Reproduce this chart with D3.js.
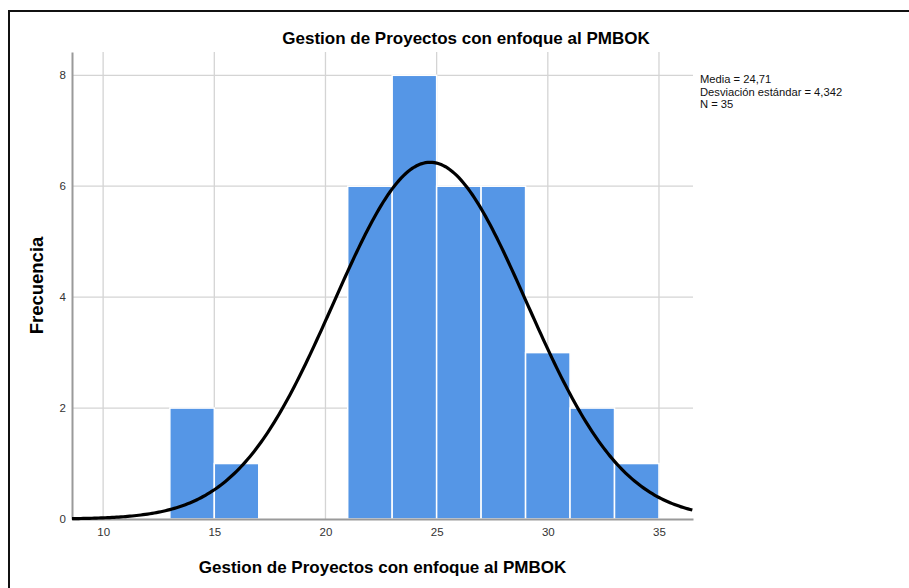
<!DOCTYPE html>
<html>
<head>
<meta charset="utf-8">
<script src="https://cdn.jsdelivr.net/npm/d3@7"></script>
<style>
  body { margin: 0; background: #fff; }
  svg { display: block; font-family: 'Liberation Sans', Arial, sans-serif; }
</style>
</head>
<body>
<div id="chart"></div>
<script>
  // histogram bins (lower edge, upper edge, count)
  var binStarts = [13, 15, 21, 23, 25, 27, 29, 31, 33]
  var binEnds = [15, 17, 23, 25, 27, 29, 31, 33, 35]
  var counts = [2, 1, 6, 8, 6, 6, 3, 2, 1]
  var xTicks = [10, 15, 20, 25, 30, 35]
  var yTicks = [0, 2, 4, 6, 8]

  // summary stats shown in the legend
  var mean = 24.71
  var sd = 4.342
  var n = 35
  var binWidth = 2

  var width = 909
  var height = 588
  var margin = { left: 72, right: 216, top: 52, bottom: 69 }

  var svg = d3.select('#chart').append('svg')
    .attr('width', width)
    .attr('height', height)

  // outer frame
  svg.append('path')
    .attr('d', 'M9,' + height + 'V11H' + width)
    .attr('fill', 'none')
    .attr('stroke', '#111')
    .attr('stroke-width', 2)

  var xScale = d3.scaleLinear()
    .domain([8.6, 36.53])
    .range([margin.left, width - margin.right])

  var yScale = d3.scaleLinear()
    .domain([0, 8.42])
    .range([height - margin.bottom, margin.top])

  var grid = svg.append('g').classed('grid', true)
  grid.selectAll('line.v')
    .data(xTicks)
    .enter()
    .append('line')
      .attr('x1', function (d) { return xScale(d) })
      .attr('x2', function (d) { return xScale(d) })
      .attr('y1', yScale.range()[1])
      .attr('y2', yScale.range()[0])
      .attr('stroke', '#d4d4d4')
      .attr('stroke-width', 1.3)
  grid.selectAll('line.h')
    .data(yTicks.slice(1))
    .enter()
    .append('line')
      .attr('x1', xScale.range()[0])
      .attr('x2', xScale.range()[1])
      .attr('y1', function (d) { return yScale(d) })
      .attr('y2', function (d) { return yScale(d) })
      .attr('stroke', '#d4d4d4')
      .attr('stroke-width', 1.3)

  // bars
  svg.append('g').classed('bars', true).selectAll('rect')
    .data(counts)
    .enter()
    .append('rect')
      .attr('x', function (d, i) { return xScale(binStarts[i]) })
      .attr('width', function (d, i) { return xScale(binEnds[i]) - xScale(binStarts[i]) })
      .attr('y', function (d) { return yScale(d) })
      .attr('height', function (d) { return yScale(0) - yScale(d) })
      .attr('fill', '#5596e6')
      .attr('stroke', '#fff')
      .attr('stroke-width', 1.5)

  // axes
  var xAxis = d3.axisBottom(xScale).tickValues(xTicks).tickSize(0).tickPadding(9)
  var yAxis = d3.axisLeft(yScale).tickValues(yTicks).tickSize(0).tickPadding(6)

  var xAxisGroup = svg.append('g')
    .attr('transform', 'translate(0,' + yScale(0) + ')')
    .call(xAxis)
  var yAxisGroup = svg.append('g')
    .attr('transform', 'translate(' + xScale.range()[0] + ',0)')
    .call(yAxis)

  ;[xAxisGroup, yAxisGroup].forEach(function (g) {
    g.select('.domain').attr('stroke', '#9a9a9a').attr('stroke-width', 2)
    g.selectAll('text')
      .attr('fill', '#333')
      .style('font-size', '11.5px')
      .style('font-family', "'Liberation Sans', Arial, sans-serif")
  })

  // fitted normal curve
  var pdf = function (x) {
    return n * binWidth / (sd * Math.sqrt(2 * Math.PI)) * Math.exp(-0.5 * Math.pow((x - mean) / sd, 2))
  }
  var curveX = d3.range(xScale.domain()[0], xScale.domain()[1] + 0.01, 0.1)
  svg.append('path')
    .datum(curveX)
    .attr('d', d3.line()
      .x(function (d) { return xScale(d) })
      .y(function (d) { return yScale(pdf(d)) }))
    .attr('fill', 'none')
    .attr('stroke', '#000')
    .attr('stroke-width', 3.2)

  // titles
  svg.append('text')
    .attr('x', 466)
    .attr('y', 44)
    .attr('text-anchor', 'middle')
    .style('font-size', '17px')
    .style('font-weight', 'bold')
    .text('Gestion de Proyectos con enfoque al PMBOK')

  svg.append('text')
    .attr('x', (xScale.range()[0] + xScale.range()[1]) / 2)
    .attr('y', 573)
    .attr('text-anchor', 'middle')
    .style('font-size', '17px')
    .style('font-weight', 'bold')
    .text('Gestion de Proyectos con enfoque al PMBOK')

  svg.append('text')
    .attr('transform', 'translate(43,' + (yScale.range()[0] + yScale.range()[1]) / 2 + ') rotate(-90)')
    .attr('text-anchor', 'middle')
    .style('font-size', '18.5px')
    .style('font-weight', 'bold')
    .text('Frecuencia')

  // stats legend
  var stats = ['Media = 24,71', 'Desviación estándar = 4,342', 'N = 35']
  svg.append('g').selectAll('text')
    .data(stats)
    .enter()
    .append('text')
      .attr('x', 700)
      .attr('y', function (d, i) { return 83 + i * 12.6 })
      .style('font-size', '11.2px')
      .attr('fill', '#111')
      .text(function (d) { return d })
</script>
</body>
</html>
